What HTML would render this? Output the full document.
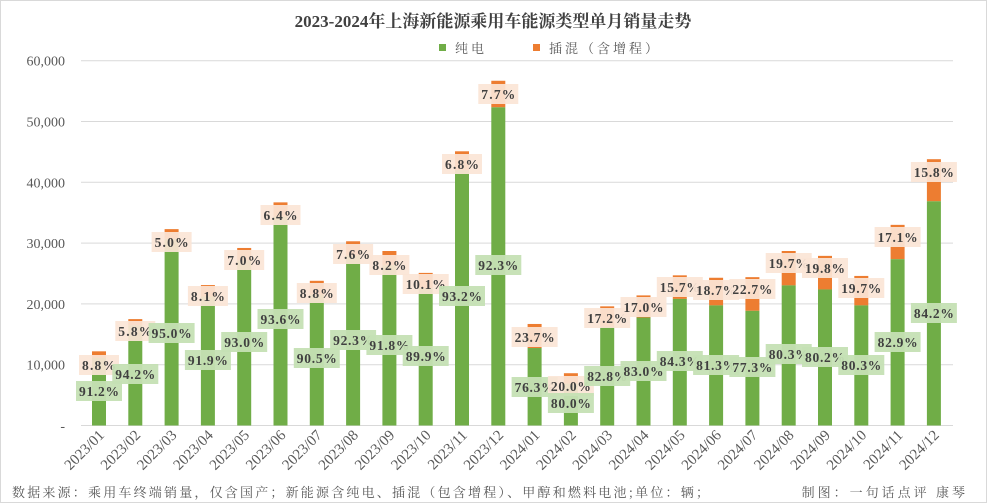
<!DOCTYPE html>
<html><head><meta charset="utf-8"><style>
body{margin:0;background:#fff;}
svg{display:block;font-family:"Liberation Serif","Noto Serif CJK SC",serif;}
</style></head><body>
<svg id="c" width="987" height="503" viewBox="0 0 987 503" xmlns="http://www.w3.org/2000/svg">
<rect x="0.5" y="0.5" width="986" height="502" fill="#fff" stroke="#d9d9d9"/>
<text x="493" y="27" text-anchor="middle" font-size="17" font-weight="bold" fill="#404040">2023-2024年上海新能源乘用车能源类型单月销量走势</text>
<rect x="439" y="44" width="7" height="7" fill="#70ad47"/>
<text x="455" y="53" font-size="13" fill="#595959" letter-spacing="3" font-family="Noto Serif CJK SC, serif">纯电</text>
<rect x="533" y="44" width="7" height="7" fill="#ed7d31"/>
<text x="549" y="53" font-size="13" fill="#595959" letter-spacing="3" font-family="Noto Serif CJK SC, serif">插混（含增程）</text>
<g id="g"></g>
<text x="12" y="497" font-size="13" fill="#595959" letter-spacing="2.2" font-family="Noto Serif CJK SC, serif">数据来源：乘用车终端销量，仅含国产；新能源含纯电、插混（包含增程）、甲醇和燃料电池;单位：辆；</text>
<text x="968" y="497" text-anchor="end" font-size="13" fill="#595959" letter-spacing="3" font-family="Noto Serif CJK SC, serif">制图：一句话点评 康琴</text>
</svg>
<script>
var g=document.getElementById('g'),h='';
var y0=425.5,k=60.8/10000;
for(var i=0;i<=6;i++){var y=y0-i*60.8;h+='<line x1="81" x2="953" y1="'+y+'" y2="'+y+'" stroke="#d9d9d9" stroke-width="1"/>';
h+='<text x="65" y="'+(y+5)+'" text-anchor="end" font-size="14" fill="#595959">'+(i?(i*10)+',000':'-')+'</text>';}
var tot=[12200,17500,32300,23100,29200,36700,23800,30300,28700,25100,45100,56700,16700,8600,19600,21400,24700,24300,24400,28700,27900,24600,33000,43800];
var pe=[91.2,94.2,95.0,91.9,93.0,93.6,90.5,92.3,91.8,89.9,93.2,92.3,76.3,80.0,82.8,83.0,84.3,81.3,77.3,80.3,80.2,80.3,82.9,84.2];
var po=['8.8','5.8','5.0','8.1','7.0','6.4','8.8','7.6','8.2','10.1','6.8','7.7','23.7','20.0','17.2','17.0','15.7','18.7','22.7','19.7','19.8','19.7','17.1','15.8'];
var ly=[365,331,242,296,260,215,293,254,265,284,164,94,337,386,318,307,287,290,289,263,268,288,237,172];
var gy=[391,374,333,360,342,319,358,340,345,356,296,265,387,403,376,371,361,365,367,354,357,365,342,313];
var bars='',labs='';
for(var i=0;i<24;i++){var cx=99+i*36.3,t=y0-tot[i]*k,gt=y0-tot[i]*pe[i]/100*k;
bars+='<rect x="'+(cx-7)+'" y="'+t+'" width="14" height="'+(gt-t)+'" fill="#ed7d31"/>';
bars+='<rect x="'+(cx-7)+'" y="'+gt+'" width="14" height="'+(y0-gt)+'" fill="#70ad47"/>';
var w=po[i].length>3?46:40;
labs+='<rect x="'+(cx-w/2)+'" y="'+(ly[i]-10)+'" width="'+w+'" height="20" fill="#fbe5d6" opacity="0.92"/><text x="'+cx+'" y="'+(ly[i]+5)+'" text-anchor="middle" font-size="13.5" font-weight="bold" fill="#404040" textLength="'+(w-6)+'">'+po[i]+'%</text>';
labs+='<rect x="'+(cx-23)+'" y="'+(gy[i]-10)+'" width="46" height="20" fill="#c5e0b4" opacity="0.95"/><text x="'+cx+'" y="'+(gy[i]+5)+'" text-anchor="middle" font-size="13.5" font-weight="bold" fill="#404040" textLength="40">'+pe[i].toFixed(1)+'%</text>';
var m=(i<12?'2023/':'2024/')+('0'+(i%12+1)).slice(-2);
labs+='<text transform="translate('+(cx+6)+',436) rotate(-45)" text-anchor="end" font-size="15" fill="#595959">'+m+'</text>';}
g.innerHTML=h+bars+labs;
</script>
</body></html>
